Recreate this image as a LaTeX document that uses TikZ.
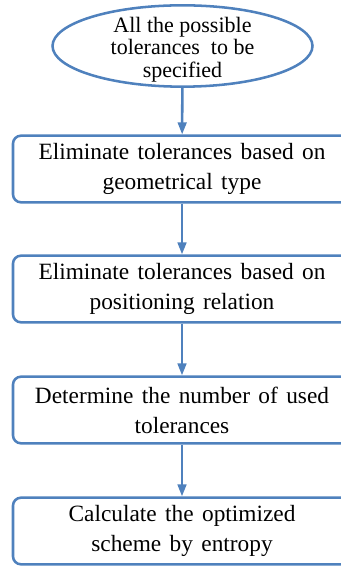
\documentclass[tikz,border=0pt]{standalone}
\usepackage{fontspec}
\setmainfont{Liberation Serif}
\usepackage{tikz}
\usetikzlibrary{arrows.meta, shapes.geometric}
\definecolor{FlowBlue}{RGB}{79,129,189}

\begin{document}
\begin{tikzpicture}[x=0.75pt, y=-0.75pt,
		flowline/.style={FlowBlue, line width=1.9pt, -{Triangle[length=9pt, width=6.5pt]}},
		stepbox/.style={draw=FlowBlue, line width=1.9pt, rounded corners=6pt,
			minimum width=253.5pt, minimum height=50pt, align=center, inner sep=0pt,
			font=\fontsize{17.5}{22.5}\selectfont,
			execute at begin node={\spaceskip=0.36em plus 0.1em\relax}},
		startbox/.style={draw=FlowBlue, line width=1.9pt, ellipse, inner sep=0pt,
			minimum width=195pt, minimum height=61pt},
		starttext/.style={align=center, yshift=-2.5pt, font=\fontsize{16.5}{16.8}\selectfont}]
		\useasboundingbox (0,0) rectangle (340,566);
		
		\node[startbox, label={[starttext]center:All the possible\\tolerances\ \ to be\\specified}] (start) at (182.5,46) {};
		
		\node[stepbox] (geom) at (182,169) {Eliminate tolerances based on\\geometrical type};
		\node[stepbox] (pos) at (182,289) {Eliminate tolerances based on\\positioning relation};
		\node[stepbox] (num) at (182,410) {Determine the number of used\\tolerances};
		\node[stepbox] (calc) at (182,531) {Calculate the optimized\\scheme by entropy};
		
		\draw[flowline] (start) -- (geom);
		\draw[flowline] (geom) -- (pos);
		\draw[flowline] (pos) -- (num);
		\draw[flowline] (num) -- (calc);
	\end{tikzpicture}
\end{document}
